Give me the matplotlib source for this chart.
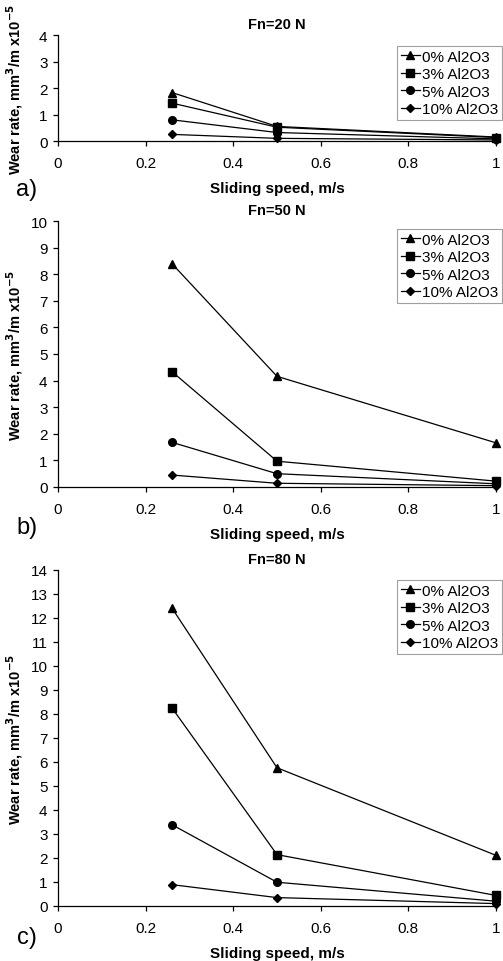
import matplotlib.pyplot as plt
from matplotlib.ticker import FuncFormatter

plt.rcParams["font.family"] = ["Liberation Sans", "DejaVu Sans"]

speed = [0.26, 0.5, 1.0]
series_labels = ["0% Al2O3", "3% Al2O3", "5% Al2O3", "10% Al2O3"]
markers = ["^", "s", "o", "D"]
marker_sizes = [6, 5.5, 5.5, 4]

# wear rate, mm3/m x10^-5
wear_20n = [
    [1.83, 0.55, 0.15],
    [1.43, 0.52, 0.13],
    [0.80, 0.32, 0.08],
    [0.25, 0.10, 0.04],
]
wear_50n = [
    [8.40, 4.16, 1.66],
    [4.34, 0.97, 0.22],
    [1.68, 0.50, 0.12],
    [0.45, 0.14, 0.05],
]
wear_80n = [
    [12.42, 5.76, 2.11],
    [8.26, 2.14, 0.44],
    [3.39, 0.99, 0.20],
    [0.89, 0.35, 0.10],
]

W, H = 503, 962

# title, data, ymax, tag, (axes top px, axes bottom px), tag y px, legend top px
panels = [
    ("Fn=20 N", wear_20n, 4, "a)", (36, 142), 190, 47),
    ("Fn=50 N", wear_50n, 10, "b)", (222, 488), 528, 230),
    ("Fn=80 N", wear_80n, 14, "c)", (571, 907), 938, 581),
]

fig = plt.figure(figsize=(W / 100, H / 100), dpi=100)
left_px, right_px = 58, 496

for title, data, ymax, tag, (top_px, bot_px), tag_y, leg_top in panels:
    rect = [left_px / W, 1 - bot_px / H, (right_px - left_px) / W, (bot_px - top_px) / H]
    ax = fig.add_axes(rect)
    for vals, label, mk, ms in zip(data, series_labels, markers, marker_sizes):
        ax.plot(speed, vals, color="black", linewidth=0.9, marker=mk,
                markersize=ms, label=label, clip_on=False)
    ax.set_xlim(0, 1)
    ax.set_ylim(0, ymax)
    ax.set_xticks([0, 0.2, 0.4, 0.6, 0.8, 1.0])
    ax.xaxis.set_major_formatter(FuncFormatter(lambda v, p: f"{v:g}"))
    ax.set_yticks(range(0, ymax + 1))
    for side in ("top", "right"):
        ax.spines[side].set_visible(False)
    ax.spines["left"].set_linewidth(0.9)
    ax.spines["bottom"].set_linewidth(0.9)
    ax.tick_params(direction="out", length=3.5, width=0.9, labelsize=11)
    ax.tick_params(axis="x", pad=7)
    ax.tick_params(axis="y", pad=4)
    ax.set_title(title, fontsize=10.5, fontweight="bold", pad=5)
    ax.set_xlabel("Sliding speed, m/s", fontsize=11, fontweight="bold", labelpad=8)
    ax.set_ylabel("Wear rate, mm$^{\\mathbf{3}}$/m x10$^{\\mathbf{-5}}$",
                  fontsize=10.5, fontweight="bold")
    ax.yaxis.set_label_coords((25 - left_px) / (right_px - left_px), 0.5)
    leg = ax.legend(loc="upper right", bbox_to_anchor=(502 / W, 1 - leg_top / H),
                    bbox_transform=fig.transFigure, fontsize=11,
                    frameon=True, fancybox=False, edgecolor="#888888",
                    handlelength=1.3, handletextpad=0.1, borderpad=0.25,
                    labelspacing=0.22, borderaxespad=0)
    leg.get_frame().set_linewidth(0.8)
    fig.text(27 / W, 1 - tag_y / H, tag, fontsize=17, va="center", ha="center")

fig.savefig("out.png", dpi=100)
